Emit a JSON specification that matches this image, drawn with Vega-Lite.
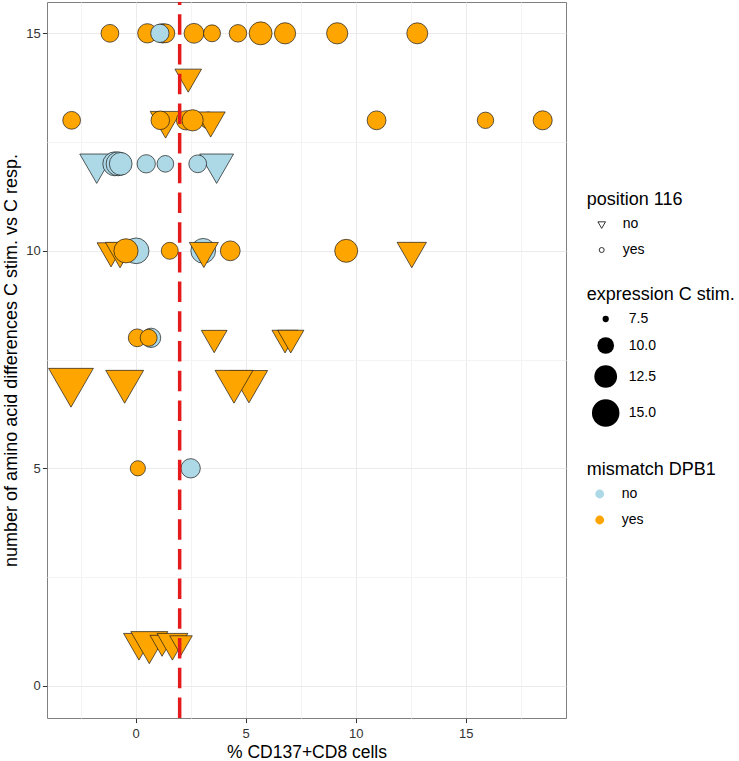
{
  "$schema": "https://vega.github.io/schema/vega-lite/v6.json",
  "width": 519,
  "height": 716,
  "autosize": {"type": "none"},
  "padding": {"left": 47, "top": 2, "right": 173, "bottom": 43},
  "background": "white",
  "config": {
    "font": "Liberation Sans",
    "view": {"stroke": "#7f7f7f", "strokeWidth": 1},
    "axis": {
      "domain": false,
      "grid": true,
      "tickColor": "#333333",
      "tickSize": 4.6,
      "tickWidth": 1,
      "labelFont": "Liberation Sans",
      "labelFontSize": 13,
      "labelColor": "#333333",
      "titleFont": "Liberation Sans",
      "titleFontSize": 18,
      "titleFontWeight": "normal",
      "titleColor": "#000000"
    },
    "legend": {
      "orient": "none",
      "direction": "vertical",
      "padding": 0,
      "titleFont": "Liberation Sans",
      "titleFontSize": 18,
      "titleFontWeight": "normal",
      "titleColor": "#000000",
      "titlePadding": 8,
      "labelFont": "Liberation Sans",
      "labelFontSize": 14,
      "labelColor": "#000000"
    }
  },
  "layer": [
    {
      "data": {
        "values": [
          {"pct": -1.17, "aa": 15, "expr": 10.4, "pos116": "yes", "mismatch": "yes"},
          {"pct": 0.53, "aa": 15, "expr": 11.0, "pos116": "yes", "mismatch": "yes"},
          {"pct": 1.22, "aa": 15, "expr": 11.0, "pos116": "yes", "mismatch": "yes"},
          {"pct": 1.35, "aa": 15, "expr": 10.8, "pos116": "yes", "mismatch": "yes"},
          {"pct": 1.10, "aa": 15, "expr": 10.6, "pos116": "yes", "mismatch": "no"},
          {"pct": 2.65, "aa": 15, "expr": 11.2, "pos116": "yes", "mismatch": "yes"},
          {"pct": 3.47, "aa": 15, "expr": 10.1, "pos116": "yes", "mismatch": "yes"},
          {"pct": 4.65, "aa": 15, "expr": 10.3, "pos116": "yes", "mismatch": "yes"},
          {"pct": 5.68, "aa": 15, "expr": 12.6, "pos116": "yes", "mismatch": "yes"},
          {"pct": 6.79, "aa": 15, "expr": 11.8, "pos116": "yes", "mismatch": "yes"},
          {"pct": 9.16, "aa": 15, "expr": 11.8, "pos116": "yes", "mismatch": "yes"},
          {"pct": 12.8, "aa": 15, "expr": 11.7, "pos116": "yes", "mismatch": "yes"},
          {"pct": 2.39, "aa": 14, "expr": 10.3, "pos116": "no", "mismatch": "yes"},
          {"pct": -2.91, "aa": 13, "expr": 10.4, "pos116": "yes", "mismatch": "yes"},
          {"pct": 1.36, "aa": 13, "expr": 11.4, "pos116": "no", "mismatch": "yes"},
          {"pct": 1.12, "aa": 13, "expr": 10.7, "pos116": "yes", "mismatch": "yes"},
          {"pct": 3.3, "aa": 13, "expr": 10.0, "pos116": "yes", "mismatch": "yes"},
          {"pct": 3.41, "aa": 13, "expr": 10.9, "pos116": "no", "mismatch": "yes"},
          {"pct": 2.29, "aa": 13, "expr": 11.0, "pos116": "yes", "mismatch": "yes"},
          {"pct": 2.59, "aa": 13, "expr": 11.8, "pos116": "yes", "mismatch": "yes"},
          {"pct": 10.95, "aa": 13, "expr": 10.8, "pos116": "yes", "mismatch": "yes"},
          {"pct": 15.9, "aa": 13, "expr": 9.9, "pos116": "yes", "mismatch": "yes"},
          {"pct": 18.5, "aa": 13, "expr": 10.9, "pos116": "yes", "mismatch": "yes"},
          {"pct": -1.77, "aa": 12, "expr": 12.3, "pos116": "no", "mismatch": "no"},
          {"pct": 3.68, "aa": 12, "expr": 12.3, "pos116": "no", "mismatch": "no"},
          {"pct": -0.95, "aa": 12, "expr": 13.1, "pos116": "yes", "mismatch": "no"},
          {"pct": -0.8, "aa": 12, "expr": 13.1, "pos116": "yes", "mismatch": "no"},
          {"pct": -0.68, "aa": 12, "expr": 12.5, "pos116": "yes", "mismatch": "no"},
          {"pct": 0.48, "aa": 12, "expr": 10.6, "pos116": "yes", "mismatch": "no"},
          {"pct": 1.35, "aa": 12, "expr": 10.0, "pos116": "yes", "mismatch": "no"},
          {"pct": 2.82, "aa": 12, "expr": 10.4, "pos116": "yes", "mismatch": "no"},
          {"pct": -1.12, "aa": 10, "expr": 10.6, "pos116": "no", "mismatch": "yes"},
          {"pct": -0.71, "aa": 10, "expr": 11.0, "pos116": "no", "mismatch": "yes"},
          {"pct": 0.02, "aa": 10, "expr": 14.0, "pos116": "yes", "mismatch": "no"},
          {"pct": -0.44, "aa": 10, "expr": 13.2, "pos116": "yes", "mismatch": "yes"},
          {"pct": 1.55, "aa": 10, "expr": 10.1, "pos116": "yes", "mismatch": "yes"},
          {"pct": 3.07, "aa": 10, "expr": 13.5, "pos116": "yes", "mismatch": "no"},
          {"pct": 3.1, "aa": 10, "expr": 10.9, "pos116": "no", "mismatch": "yes"},
          {"pct": 4.3, "aa": 10, "expr": 11.2, "pos116": "yes", "mismatch": "yes"},
          {"pct": 9.57, "aa": 10, "expr": 12.6, "pos116": "yes", "mismatch": "yes"},
          {"pct": 12.55, "aa": 10, "expr": 11.0, "pos116": "no", "mismatch": "yes"},
          {"pct": 0.07, "aa": 8, "expr": 10.4, "pos116": "yes", "mismatch": "yes"},
          {"pct": 0.7, "aa": 8, "expr": 11.0, "pos116": "yes", "mismatch": "no"},
          {"pct": 0.59, "aa": 8, "expr": 10.1, "pos116": "yes", "mismatch": "yes"},
          {"pct": 3.57, "aa": 8, "expr": 10.1, "pos116": "no", "mismatch": "yes"},
          {"pct": 6.79, "aa": 8, "expr": 10.2, "pos116": "no", "mismatch": "yes"},
          {"pct": 7.05, "aa": 8, "expr": 10.2, "pos116": "no", "mismatch": "yes"},
          {"pct": -2.94, "aa": 7, "expr": 16.2, "pos116": "no", "mismatch": "yes"},
          {"pct": -0.5, "aa": 7, "expr": 13.6, "pos116": "no", "mismatch": "yes"},
          {"pct": 5.15, "aa": 7, "expr": 13.4, "pos116": "no", "mismatch": "yes"},
          {"pct": 4.47, "aa": 7, "expr": 13.6, "pos116": "no", "mismatch": "yes"},
          {"pct": 0.1, "aa": 5, "expr": 9.5, "pos116": "yes", "mismatch": "yes"},
          {"pct": 2.5, "aa": 5, "expr": 11.0, "pos116": "yes", "mismatch": "no"},
          {"pct": 0.15, "aa": 1, "expr": 11.4, "pos116": "no", "mismatch": "yes"},
          {"pct": 0.62, "aa": 1, "expr": 13.3, "pos116": "no", "mismatch": "yes"},
          {"pct": 1.2, "aa": 1, "expr": 9.75, "pos116": "no", "mismatch": "yes"},
          {"pct": 1.67, "aa": 1, "expr": 11.4, "pos116": "no", "mismatch": "yes"},
          {"pct": 2.06, "aa": 1, "expr": 9.4, "pos116": "no", "mismatch": "yes"}
        ]
      },
      "mark": {"type": "point", "filled": true, "opacity": 1, "stroke": "#1a1a1a", "strokeWidth": 0.7},
      "encoding": {
        "x": {
          "field": "pct", "type": "quantitative",
          "scale": {"domain": [-4.03, 19.56], "nice": false, "zero": false},
          "axis": {
            "title": "% CD137+CD8 cells",
            "values": [-2.5, 0, 2.5, 5, 7.5, 10, 12.5, 15, 17.5],
            "labelExpr": "datum.value % 5 === 0 ? datum.label : ''",
            "tickOpacity": {"condition": {"test": "datum.value % 5 !== 0", "value": 0}, "value": 1},
            "gridColor": {"condition": {"test": "datum.value % 5 === 0", "value": "#ebebeb"}, "value": "#f3f3f3"},
            "labelPadding": 5,
            "titlePadding": 3,
            "titleFontSize": 17.5
          }
        },
        "y": {
          "field": "aa", "type": "quantitative",
          "scale": {"domain": [-0.74, 15.72], "nice": false, "zero": false},
          "axis": {
            "title": "number of amino acid differences C stim. vs C resp.",
            "values": [0, 2.5, 5, 7.5, 10, 12.5, 15],
            "labelExpr": "datum.value % 5 === 0 ? datum.label : ''",
            "tickOpacity": {"condition": {"test": "datum.value % 5 !== 0", "value": 0}, "value": 1},
            "gridColor": {"condition": {"test": "datum.value % 5 === 0", "value": "#ebebeb"}, "value": "#f3f3f3"},
            "labelPadding": 2.2,
            "titlePadding": 5
          }
        },
        "size": {
          "field": "expr", "type": "quantitative",
          "scale": {"type": "linear", "domain": [7.3, 15], "range": [20, 755], "zero": false, "nice": false},
          "legend": {
            "title": "expression C stim.",
            "values": [7.5, 10, 12.5, 15],
            "format": ".1f",
            "legendX": 539.7,
            "legendY": 284,
            "symbolType": "circle",
            "symbolFillColor": "black",
            "symbolStrokeColor": "black",
            "symbolStrokeWidth": 0,
            "symbolOffset": 5,
            "labelOffset": 9,
            "rowPadding": 11
          }
        },
        "shape": {
          "field": "pos116", "type": "nominal",
          "scale": {"range": ["M-1.52,-0.878L1.52,-0.878L0,1.755Z", "circle"]},
          "legend": {
            "title": "position 116",
            "legendX": 539.7,
            "legendY": 189,
            "symbolSize": 25,
            "symbolFillColor": "white",
            "symbolStrokeColor": "black",
            "symbolStrokeWidth": 0.8,
            "symbolOffset": 8,
            "labelOffset": 14,
            "rowPadding": 12
          }
        },
        "fill": {
          "field": "mismatch", "type": "nominal",
          "scale": {"range": ["#ADD8E6", "#FFA500"]},
          "legend": {
            "title": "mismatch DPB1",
            "legendX": 539.7,
            "legendY": 459,
            "symbolType": "circle",
            "symbolSize": 78,
            "symbolStrokeWidth": 0,
            "symbolOffset": 6,
            "labelOffset": 15,
            "rowPadding": 12
          }
        }
      }
    },
    {
      "data": {"values": [{"threshold": 2}]},
      "mark": {"type": "rule", "color": "#e41a1c", "strokeWidth": 3.5, "strokeDash": [20.5, 9.2], "strokeDashOffset": 17.4},
      "encoding": {
        "x": {"field": "threshold", "type": "quantitative"}
      }
    }
  ]
}
